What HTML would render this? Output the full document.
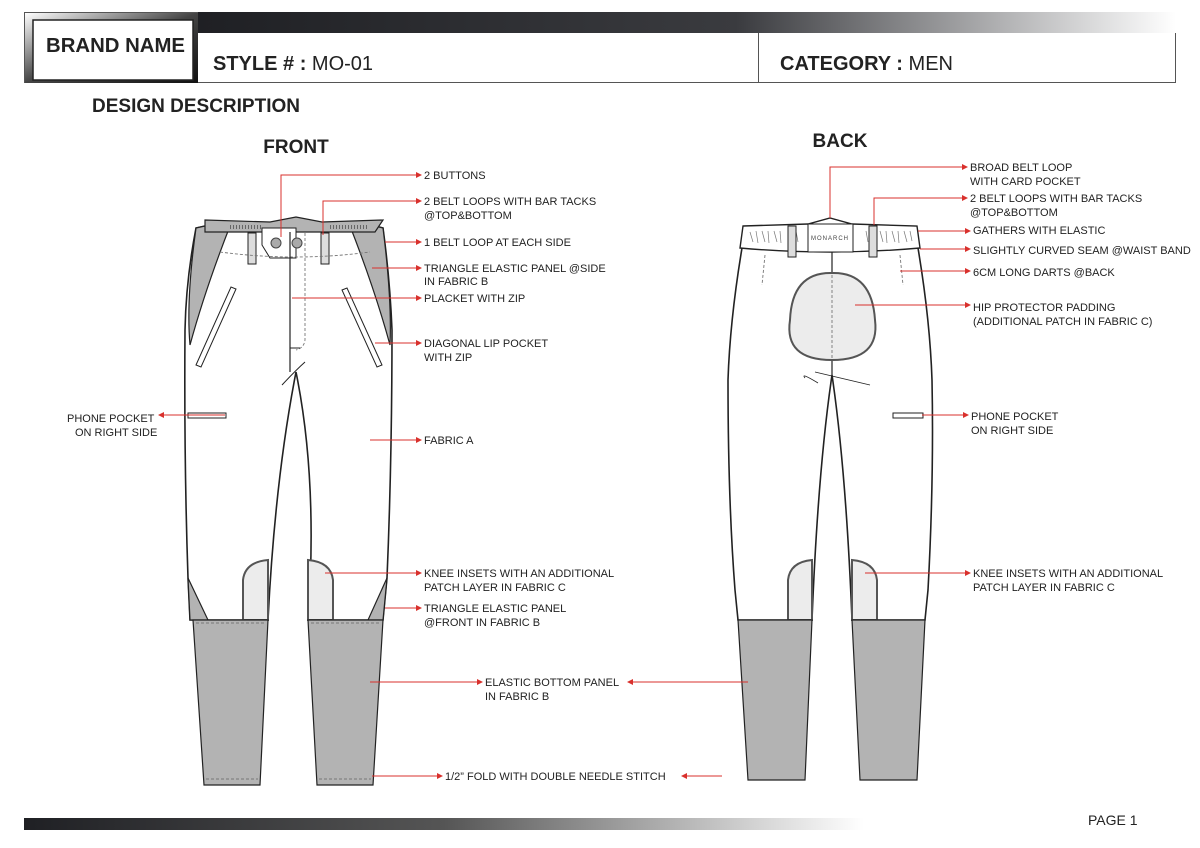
<!DOCTYPE html>
<html><head><meta charset="utf-8"><style>
html,body{margin:0;padding:0;background:#fff;}
svg{display:block;}
text{font-family:"Liberation Sans",Arial,sans-serif;}
.l{font-size:11px;fill:#222;}
.r{stroke:#d9302c;stroke-width:1;fill:none;}
.o{stroke:#222;stroke-width:1.6;fill:#fff;}
.g{fill:#b3b3b3;stroke:#222;stroke-width:1.2;}
.p{fill:#ececec;stroke:#555;stroke-width:2;}
.d{stroke:#777;stroke-width:0.9;fill:none;stroke-dasharray:3 2;}
</style></head><body>
<svg width="1200" height="848" viewBox="0 0 1200 848" xmlns="http://www.w3.org/2000/svg">
<defs>
<linearGradient id="bar" x1="0" x2="1"><stop offset="0" stop-color="#1f2024"/><stop offset="0.55" stop-color="#3a3b3f"/><stop offset="1" stop-color="#fff"/></linearGradient>
<linearGradient id="bar2" x1="0" x2="1"><stop offset="0" stop-color="#1f2024"/><stop offset="0.5" stop-color="#555"/><stop offset="1" stop-color="#fff"/></linearGradient>
<linearGradient id="frame" x1="0" y1="0" x2="1" y2="1"><stop offset="0" stop-color="#fff"/><stop offset="0.5" stop-color="#444"/><stop offset="1" stop-color="#111"/></linearGradient>
<marker id="a" markerWidth="6" markerHeight="6" refX="5" refY="3" orient="auto"><path d="M0,0 L6,3 L0,6z" fill="#d9302c"/></marker>
</defs>
<rect x="24.5" y="12.5" width="1151" height="70" fill="none" stroke="#555"/>
<rect x="198" y="12" width="978" height="21" fill="url(#bar)"/>
<rect x="25" y="13" width="173" height="70" fill="url(#frame)"/>
<rect x="33" y="20" width="160" height="60" fill="#fff" stroke="#222" stroke-width="1.5"/>
<text x="46" y="52" font-size="20" font-weight="bold" fill="#222" textLength="139" lengthAdjust="spacingAndGlyphs">BRAND NAME</text>
<line x1="758.5" y1="33" x2="758.5" y2="83" stroke="#555"/>
<text x="213" y="70" font-size="20" fill="#222"><tspan font-weight="bold">STYLE # : </tspan>MO-01</text>
<text x="780" y="70" font-size="20" fill="#222"><tspan font-weight="bold">CATEGORY : </tspan> MEN</text>
<text x="92" y="112" font-size="19" font-weight="bold" fill="#222">DESIGN DESCRIPTION</text>
<text x="296" y="153" font-size="19" font-weight="bold" fill="#222" text-anchor="middle">FRONT</text>
<text x="840" y="147" font-size="19" font-weight="bold" fill="#222" text-anchor="middle">BACK</text>
<rect x="24" y="818" width="840" height="12" fill="url(#bar2)"/>
<text x="1088" y="825" font-size="14" fill="#222">PAGE 1</text>

<path class="o" d="M205,226 L196,228 Q186,280 185,330 Q184,460 188,578 L190,620 L268,620 Q275,480 296,372 Q318,480 308,620 L383,620 L387,578 Q392,460 392,330 Q390,280 383,228 L375,226 Z"/>
<path class="g" d="M205,226 L230,226 Q205,290 190,345 Q186,300 196,228 Z"/>
<path class="g" d="M375,226 L350,226 Q375,290 390,345 Q392,300 383,228 Z"/>
<path class="g" d="M205,220 L270,222 L296,217 L322,222 L383,220 L375,232 L322,232 L270,232 L205,232 Z"/>
<path d="M230,227 L262,227 M330,227 L368,227" stroke="#666" stroke-width="4" stroke-dasharray="1 2"/>
<path d="M262,228 L296,228 L296,258 L270,258 L262,245 Z" fill="#fff" stroke="#222"/>
<circle cx="276" cy="243" r="5" fill="#aaa" stroke="#444"/><circle cx="297" cy="243" r="5" fill="#aaa" stroke="#444"/>
<rect x="248" y="233" width="8" height="31" fill="#ddd" stroke="#222"/>
<rect x="321" y="233" width="8" height="31" fill="#ddd" stroke="#222"/>
<path class="d" d="M220,252 Q296,262 370,252"/>
<line x1="290" y1="232" x2="290" y2="372" stroke="#222" stroke-width="1.2"/>
<path class="d" d="M305,233 L305,340 Q304,348 296,350"/>
<path d="M300,348 L290,348 M282,385 Q296,370 305,362" stroke="#222" fill="none"/>
<path d="M196,365 L231,287 L236,289 L201,367 Z" fill="#fff" stroke="#222"/>
<path d="M342,290 L347,288 L382,365 L377,367 Z" fill="#fff" stroke="#222"/>
<rect x="188" y="413" width="38" height="5" fill="#fff" stroke="#222"/>
<path class="g" d="M188,578 L208,620 L190,620 Z"/>
<path class="g" d="M387,578 L383,620 L368,620 Z"/>
<path class="p" d="M243,620 L243,580 Q245,562 268,560 L268,620 Z"/>
<path class="p" d="M333,620 L333,580 Q331,562 308,560 L308,620 Z"/>
<path class="g" d="M193,620 L268,620 L260,785 L204,785 Z" stroke-width="1.6"/>
<path class="g" d="M308,620 L383,620 L373,785 L317,785 Z" stroke-width="1.6"/>
<path class="d" d="M196,623 L265,623 M311,623 L380,623 M206,779 L258,779 M319,779 L371,779"/>

<path class="o" d="M742,248 Q730,320 728,380 Q728,500 735,590 L738,620 L812,620 Q818,470 832,375 Q846,470 852,620 L925,620 L928,590 Q934,480 932,380 Q930,320 918,248 Z"/>
<path d="M743,226 L808,224 L830,218 L852,224 L917,226 L920,248 Q830,256 740,248 Z" fill="#fff" stroke="#222" stroke-width="1.4"/>
<path d="M750,232 l3,10 M756,231 l2,12 M762,231 l3,11 M768,231 l1,12 M774,231 l3,11 M780,231 l1,12 M880,231 l3,11 M886,231 l1,12 M892,231 l3,11 M898,231 l1,12 M904,231 l3,11 M910,231 l2,10 M796,231 l2,11 M866,231 l2,11" stroke="#777" stroke-width="0.7"/>
<rect x="808" y="224" width="45" height="28" fill="#fff" stroke="#222"/>
<text x="830" y="240" font-size="6" text-anchor="middle" fill="#444" letter-spacing="1">MONARCH</text>
<rect x="788" y="226" width="8" height="31" fill="#ddd" stroke="#222"/>
<rect x="869" y="226" width="8" height="31" fill="#ddd" stroke="#222"/>
<line x1="832" y1="252" x2="832" y2="375" stroke="#222" stroke-width="1.2"/>
<path class="d" d="M765,255 L762,285 M900,255 L903,285"/>
<path class="p" d="M832,273 Q872,272 875,320 Q880,360 832,360 Q784,360 790,320 Q792,272 832,273 Z" stroke-width="2.2"/>
<path class="d" d="M832,275 L832,358"/>
<path d="M818,383 Q800,372 805,378 M815,372 L870,385" stroke="#222" fill="none" stroke-width="0.8"/>
<rect x="893" y="413" width="30" height="5" fill="#fff" stroke="#222"/>
<path class="p" d="M788,620 L788,580 Q790,562 812,560 L812,620 Z"/>
<path class="p" d="M877,620 L877,580 Q875,562 852,560 L852,620 Z"/>
<path class="g" d="M738,620 L812,620 L805,780 L748,780 Z" stroke-width="1.6"/>
<path class="g" d="M852,620 L925,620 L917,780 L860,780 Z" stroke-width="1.6"/>

<path class="r" marker-end="url(#a)" d="M281,237 L281,175 L421,175"/>
<path class="r" marker-end="url(#a)" d="M323,235 L323,201 L421,201"/>
<path class="r" marker-end="url(#a)" d="M385,242 L421,242"/>
<path class="r" marker-end="url(#a)" d="M372,268 L421,268"/>
<path class="r" marker-end="url(#a)" d="M292,298 L421,298"/>
<path class="r" marker-end="url(#a)" d="M375,343 L421,343"/>
<path class="r" marker-end="url(#a)" d="M225,415 L159,415"/>
<path class="r" marker-end="url(#a)" d="M370,440 L421,440"/>
<path class="r" marker-end="url(#a)" d="M325,573 L421,573"/>
<path class="r" marker-end="url(#a)" d="M385,608 L421,608"/>
<path class="r" marker-end="url(#a)" d="M370,682 L482,682"/>
<path class="r" marker-end="url(#a)" d="M748,682 L628,682"/>
<path class="r" marker-end="url(#a)" d="M372,776 L442,776"/>
<path class="r" marker-end="url(#a)" d="M722,776 L682,776"/>
<path class="r" marker-end="url(#a)" d="M830,218 L830,167 L967,167"/>
<path class="r" marker-end="url(#a)" d="M874,225 L874,198 L967,198"/>
<path class="r" marker-end="url(#a)" d="M918,231 L970,231"/>
<path class="r" marker-end="url(#a)" d="M920,249 L970,249"/>
<path class="r" marker-end="url(#a)" d="M900,271 L970,271"/>
<path class="r" marker-end="url(#a)" d="M855,305 L970,305"/>
<path class="r" marker-end="url(#a)" d="M922,415 L968,415"/>
<path class="r" marker-end="url(#a)" d="M865,573 L970,573"/>

<g class="l">
<text class="l" x="424" y="179">2 BUTTONS</text>
<text class="l" x="424" y="205">2 BELT LOOPS WITH BAR TACKS</text>
<text class="l" x="424" y="219">@TOP&amp;BOTTOM</text>
<text class="l" x="424" y="246">1 BELT LOOP AT EACH SIDE</text>
<text class="l" x="424" y="272">TRIANGLE ELASTIC PANEL @SIDE</text>
<text class="l" x="424" y="285">IN FABRIC B</text>
<text class="l" x="424" y="302">PLACKET WITH ZIP</text>
<text class="l" x="424" y="347">DIAGONAL LIP POCKET</text>
<text class="l" x="424" y="361">WITH ZIP</text>
<text class="l" x="67" y="422">PHONE POCKET</text>
<text class="l" x="75" y="436">ON RIGHT SIDE</text>
<text class="l" x="424" y="444">FABRIC A</text>
<text class="l" x="424" y="577">KNEE INSETS WITH AN ADDITIONAL</text>
<text class="l" x="424" y="591">PATCH LAYER IN FABRIC C</text>
<text class="l" x="424" y="612">TRIANGLE ELASTIC PANEL</text>
<text class="l" x="424" y="626">@FRONT IN FABRIC B</text>
<text class="l" x="485" y="686">ELASTIC BOTTOM PANEL</text>
<text class="l" x="485" y="700">IN FABRIC B</text>
<text class="l" x="445" y="780">1/2” FOLD WITH DOUBLE NEEDLE STITCH</text>
<text class="l" x="970" y="171">BROAD BELT LOOP</text>
<text class="l" x="970" y="185">WITH CARD POCKET</text>
<text class="l" x="970" y="202">2 BELT LOOPS WITH BAR TACKS</text>
<text class="l" x="970" y="216">@TOP&amp;BOTTOM</text>
<text class="l" x="973" y="234">GATHERS WITH ELASTIC</text>
<text class="l" x="973" y="254">SLIGHTLY CURVED SEAM @WAIST BAND</text>
<text class="l" x="973" y="276">6CM LONG DARTS @BACK</text>
<text class="l" x="973" y="311">HIP PROTECTOR PADDING</text>
<text class="l" x="973" y="325">(ADDITIONAL PATCH IN FABRIC C)</text>
<text class="l" x="971" y="420">PHONE POCKET</text>
<text class="l" x="971" y="434">ON RIGHT SIDE</text>
<text class="l" x="973" y="577">KNEE INSETS WITH AN ADDITIONAL</text>
<text class="l" x="973" y="591">PATCH LAYER IN FABRIC C</text>
</g>
</svg>
</body></html>
